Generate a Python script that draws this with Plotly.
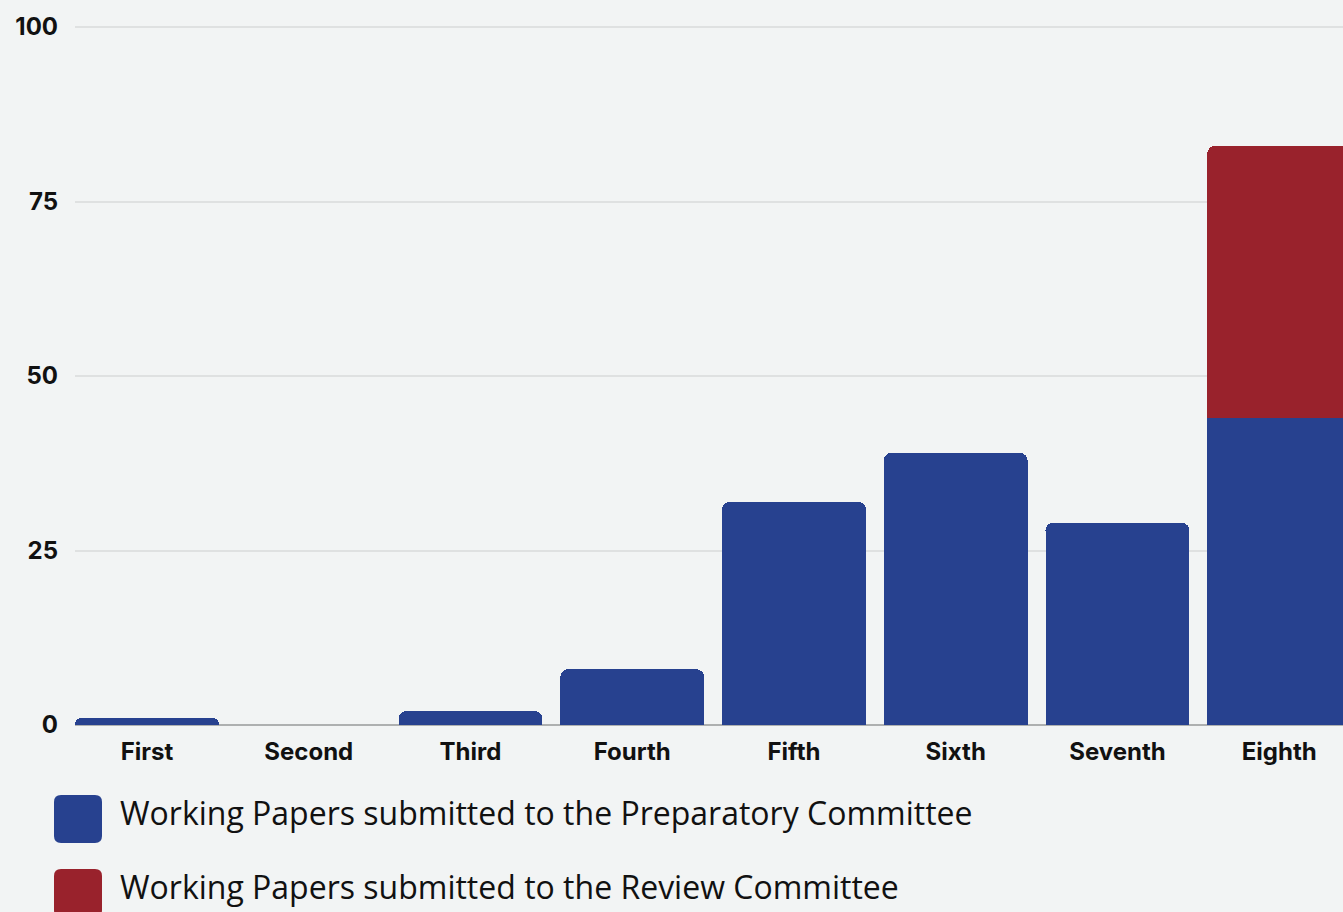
import plotly.graph_objects as go

# Review cycles and counts of working papers
cycles = ["First", "Second", "Third", "Fourth", "Fifth", "Sixth", "Seventh", "Eighth"]
prep_committee = [1, 0, 2, 8, 32, 39, 29, 44]
review_committee = [0, 0, 0, 0, 0, 0, 0, 39]
series_names = [
    "Working Papers submitted to the Preparatory Committee",
    "Working Papers submitted to the Review Committee",
]
y_ticks = [0, 25, 50, 75, 100]

BLUE = "#27418f"
RED = "#99222c"
BG = "#f2f4f4"

W, H = 1343, 912
ML, MR, MT, MB = 75, 0, 26, 187
plot_w = W - ML - MR
plot_h = H - MT - MB

fig = go.Figure()
fig.add_trace(go.Bar(x=cycles, y=prep_committee, marker=dict(color=BLUE, line=dict(width=0)),
                     name=series_names[0], showlegend=False))
fig.add_trace(go.Bar(x=cycles, y=review_committee, marker=dict(color=RED, line=dict(width=0)),
                     name=series_names[1], showlegend=False))

pitch = 161.75
x0 = -0.445
x1 = x0 + plot_w / pitch
y_top = 100.15

fig.update_layout(
    width=W, height=H,
    margin=dict(l=ML, r=MR, t=MT, b=MB),
    barmode="stack",
    bargap=0.11,
    barcornerradius=8,
    paper_bgcolor=BG,
    plot_bgcolor=BG,
    font=dict(family="Inter", color="#111111"),
    xaxis=dict(
        range=[x0, x1],
        showgrid=False,
        ticks="",
        ticklabelstandoff=10,
        tickfont=dict(size=24, family="Inter", weight="bold", color="#111111"),
        showline=False,
        zeroline=False,
    ),
    yaxis=dict(
        range=[0, y_top],
        tickvals=y_ticks,
        showgrid=True,
        gridcolor="#dfe1e1",
        gridwidth=1.5,
        zeroline=True,
        zerolinecolor="#aeb0b0",
        zerolinewidth=1.5,
        ticks="",
        ticklabelstandoff=16,
        tickfont=dict(size=24, family="Inter", weight="bold", color="#111111"),
    ),
)

# Legend drawn as rounded swatches with labels below the plot
def rounded_square(half, r):
    return (f"M {-half + r},{-half} L {half - r},{-half} Q {half},{-half} {half},{-half + r} "
            f"L {half},{half - r} Q {half},{half} {half - r},{half} "
            f"L {-half + r},{half} Q {-half},{half} {-half},{half - r} "
            f"L {-half},{-half + r} Q {-half},{-half} {-half + r},{-half} Z")

legend_rows = [(series_names[0], BLUE, 819), (series_names[1], RED, 893)]
for label, color, cy in legend_rows:
    ay = (H - MB - cy) / plot_h
    ax = (78 - ML) / plot_w
    fig.add_shape(
        type="path", xref="paper", yref="paper",
        xsizemode="pixel", ysizemode="pixel",
        xanchor=ax, yanchor=ay,
        path=rounded_square(24, 7),
        fillcolor=color, line=dict(width=0), layer="above",
    )
    fig.add_annotation(
        xref="paper", yref="paper",
        x=(118 - ML) / plot_w, y=(H - MB - (cy - 7)) / plot_h,
        xanchor="left", yanchor="middle",
        text=label, showarrow=False,
        font=dict(size=32, family="Open Sans", color="#111111"),
    )

fig.write_html("out.html")
